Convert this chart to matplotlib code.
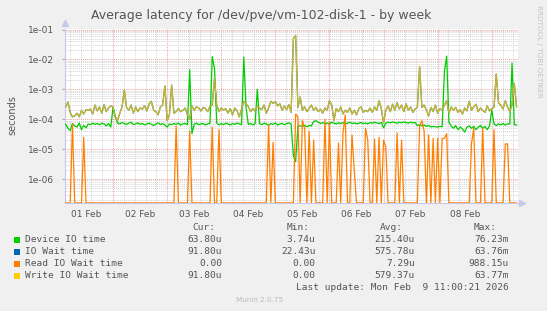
import numpy as np
import matplotlib.pyplot as plt
from matplotlib.patches import Rectangle
from matplotlib.ticker import FixedLocator, FuncFormatter, NullFormatter

# hourly samples from 01 Feb 03:00 to 09 Feb 11:00, values in microseconds
first_hour = 3

device_io = (
    [68, 50, 42, 72, 60, 55, 75, 45, 62, 52, 70, 66, 74, 68, 72, 65, 74, 70, 60, 72, 55]
    + [250, 120, 75, 70, 78, 72, 68, 74, 80, 66, 70, 76, 68, 72, 65, 70, 74, 68, 62, 70, 76, 66, 72, 64]
    + [55, 70, 66, 72, 68, 75, 64, 70, 72, 66, 4500, 33, 68, 74, 66, 70, 72, 64, 70, 74, 12500, 5000, 75, 65]
    + [72, 66, 74, 70, 64, 72, 68, 75, 70, 66, 12000, 250, 68, 72, 65, 70, 1000, 72, 66, 74, 70, 62, 72, 68]
    + [75, 64, 70, 72, 66, 72, 76, 70, 6, 3.8, 60, 60, 58, 63, 56, 62, 60, 85, 90, 80, 72, 78, 70, 75]
    + [68, 80, 74, 70, 76, 72, 78, 70, 74, 80, 72, 76, 70, 74, 78, 72, 75, 70, 78, 74, 80, 76, 72, 78]
    + [52, 74, 80, 76, 82, 78, 74, 80, 76, 82, 78, 74, 80, 76, 78, 62, 66, 60, 64, 58, 62, 55, 58, 56]
    + [55, 58, 56, 4000, 13000, 80, 60, 50, 62, 45, 55, 48, 37, 55, 60, 50, 58, 45, 55, 62, 50, 58, 45, 60]
    + [200, 70, 62, 70, 65, 72, 64, 70, 70, 7500, 66, 64]
)

write_wait = (
    [260, 380, 170, 120, 130, 160, 120, 200, 150, 210, 200, 220, 150, 300, 190, 260, 160, 310, 180, 240, 280]
    + [260, 120, 90, 160, 260, 950, 250, 200, 300, 160, 260, 180, 240, 220, 280, 190, 330, 400, 200, 180, 140, 260, 300, 1300]
    + [90, 140, 1400, 160, 180, 230, 180, 200, 240, 140, 100, 280, 200, 260, 240, 190, 250, 230, 180, 270, 300, 2500, 300, 180]
    + [240, 200, 230, 160, 230, 140, 240, 190, 120, 220, 400, 330, 270, 180, 230, 190, 280, 240, 210, 300, 160, 240, 400, 340]
    + [390, 280, 330, 200, 280, 210, 310, 170, 50000, 63000, 250, 550, 200, 260, 180, 230, 300, 200, 250, 180, 220, 160, 240, 200]
    + [420, 300, 90, 230, 180, 260, 150, 200, 170, 240, 150, 200, 140, 230, 260, 170, 200, 180, 240, 170, 260, 200, 420, 230]
    + [75, 200, 280, 180, 320, 200, 360, 220, 300, 180, 330, 200, 260, 170, 220, 250, 5800, 250, 300, 200, 130, 250, 180, 300]
    + [160, 230, 200, 300, 420, 160, 260, 200, 250, 170, 210, 150, 240, 190, 400, 200, 260, 320, 180, 240, 200, 170, 280, 190]
    + [230, 250, 3300, 350, 300, 220, 420, 260, 180, 300, 1600, 260]
)

# total IO wait sits on top of the write wait line at this scale
io_wait = write_wait

read_wait = (
    [0, 0, 0, 70, 0, 0, 0, 0, 25, 0, 0, 0, 0, 0, 0, 0, 0, 0, 0, 0, 0]
    + [0, 0, 0, 0, 0, 0, 0, 0, 0, 0, 0, 0, 0, 0, 0, 0, 0, 0, 0, 0, 0, 0, 0, 0]
    + [0, 0, 0, 0, 60, 0, 0, 0, 0, 0, 40, 0, 0, 0, 0, 0, 0, 0, 0, 0, 55, 0, 0, 45]
    + [0, 0, 0, 0, 0, 0, 0, 0, 0, 0, 0, 0, 0, 0, 0, 0, 0, 0, 0, 0, 0, 65, 0, 17]
    + [0, 0, 0, 0, 0, 0, 0, 0, 0, 150, 120, 0, 90, 50, 0, 40, 0, 20, 0, 0, 0, 0, 100, 0]
    + [80, 0, 0, 0, 16, 0, 35, 140, 0, 0, 30, 2, 0, 0, 0, 0, 50, 20, 0, 0, 22, 0, 25, 0]
    + [20, 12, 0, 0, 0, 0, 35, 0, 20, 0, 0, 0, 0, 0, 0, 0, 60, 90, 40, 0, 30, 0, 23, 0]
    + [23, 0, 23, 23, 33, 0, 0, 0, 0, 0, 0, 0, 0, 0, 0, 15, 50, 0, 0, 0, 50, 0, 0, 0]
    + [0, 45, 0, 0, 0, 0, 15, 15, 0, 0, 0, 0]
)

day_labels = ["01 Feb", "02 Feb", "03 Feb", "04 Feb", "05 Feb", "06 Feb", "07 Feb", "08 Feb"]

legend_names = ["Device IO time", "IO Wait time", "Read IO Wait time", "Write IO Wait time"]
legend_colors = ["#00cc00", "#0066b3", "#ff8000", "#ffcc00"]
cur_vals = ["63.80u", "91.80u", "0.00", "91.80u"]
min_vals = ["3.74u", "22.43u", "0.00", "0.00"]
avg_vals = ["215.40u", "575.78u", "7.29u", "579.37u"]
max_vals = ["76.23m", "63.76m", "988.15u", "63.77m"]

W, H = 547, 311
ymin, ymax = 10 ** -6.8, 10 ** -0.98


def days(series):
    return (first_hour + np.arange(len(series))) / 24.0


def secs(series, floor=None):
    v = np.asarray(series, dtype=float) * 1e-6
    if floor is not None:
        v = np.maximum(v, floor)
    return v


def fx(x):
    return x / W


def fy(y):
    return 1 - y / H


fig = plt.figure(figsize=(W / 100, H / 100), dpi=100, facecolor="#f0f0f0")
ax = fig.add_axes([fx(65), fy(203), 453 / W, 174 / H])
ax.set_facecolor("white")
ax.set_yscale("log")
ax.set_xlim(0.112, 8.485)
ax.set_ylim(ymin, ymax)

# grid, munin style: grey dotted minor, red dotted major
dot = (0, (1, 1))
for d in np.arange(0.2, 8.5, 0.2):
    if abs(d - round(d)) > 1e-6:
        ax.axvline(d, color="#d4d4d4", lw=0.7, ls=dot, zorder=0)
for d in range(1, 9):
    ax.axvline(d, color="#f0a0a0", lw=0.7, ls=dot, zorder=0)
for e in range(-7, 0):
    for m in range(2, 10):
        ax.axhline(m * 10.0 ** e, color="#d4d4d4", lw=0.7, ls=dot, zorder=0)
for e in range(-6, 0):
    ax.axhline(10.0 ** e, color="#f0a0a0", lw=0.7, ls=dot, zorder=0)

lw = 0.9
ax.plot(days(device_io), secs(device_io), color=legend_colors[0], lw=lw, zorder=3)
ax.plot(days(io_wait), secs(io_wait), color=legend_colors[1], lw=lw, zorder=4)
ax.plot(days(read_wait), secs(read_wait, floor=ymin * 1.01), color=legend_colors[2],
        lw=lw, zorder=5)
ax.plot(days(write_wait), secs(write_wait), color=legend_colors[3], lw=lw, alpha=0.8, zorder=6)

ax.yaxis.set_major_locator(FixedLocator([10.0 ** e for e in range(-6, 0)]))
ax.yaxis.set_major_formatter(FuncFormatter(lambda v, p: f"{v:.0e}"))
ax.yaxis.set_minor_formatter(NullFormatter())
ax.tick_params(axis="y", which="minor", length=0)
ax.tick_params(axis="y", which="major", length=2, color="#aaaaaa", labelsize=6.5,
               labelcolor="#555555", pad=6)
ax.set_xticks(np.arange(8) + 0.5)
ax.set_xticklabels(day_labels)
ax.tick_params(axis="x", length=0, labelsize=6.5, labelcolor="#555555", pad=5)

for s in ["top", "right"]:
    ax.spines[s].set_visible(False)
for s in ["left", "bottom"]:
    ax.spines[s].set_color("#c8c8ee")
    ax.spines[s].set_linewidth(0.8)
ax.plot([0], [1.035], marker="^", ms=4, color="#c8c8ee", transform=ax.transAxes, clip_on=False)
ax.plot([1.008], [0], marker=">", ms=4, color="#c8c8ee", transform=ax.transAxes, clip_on=False)

fig.text(fx(12), fy(115), "seconds", rotation=90, ha="center", va="center",
         fontsize=7, color="#555555")
fig.text(fx(261.5), fy(16), "Average latency for /dev/pve/vm-102-disk-1 - by week",
         ha="center", va="center", fontsize=9, color="#555555")
fig.text(fx(539), fy(5), "RRDTOOL / TOBI OETIKER", rotation=270, ha="center", va="top",
         fontsize=5.2, color="#c4c4c4")

mono = dict(family="DejaVu Sans Mono", fontsize=6.8, color="#555555", va="center")
col_heads = ["Cur:", "Min:", "Avg:", "Max:"]
head_right = [215, 309.5, 403, 497]
val_right = [222, 315.5, 415, 509]
for name, r in zip(col_heads, head_right):
    fig.text(fx(r), fy(228), name, ha="right", **mono)
columns = [cur_vals, min_vals, avg_vals, max_vals]
for i, (name, color) in enumerate(zip(legend_names, legend_colors)):
    y = 240 + 12 * i
    fig.patches.append(Rectangle((fx(13.5), fy(y + 3)), 6 / W, 6 / H, transform=fig.transFigure,
                                 facecolor=color, edgecolor="none"))
    fig.text(fx(25), fy(y), name, ha="left", **mono)
    for col, r in zip(columns, val_right):
        fig.text(fx(r), fy(y), col[i], ha="right", **mono)
fig.text(fx(509), fy(288), "Last update: Mon Feb  9 11:00:21 2026", ha="right", **mono)
fig.text(fx(260), fy(300), "Munin 2.0.75", ha="center", va="center", fontsize=5.2, color="#bbbbbb")

fig.savefig("out.png", dpi=100, facecolor=fig.get_facecolor())
